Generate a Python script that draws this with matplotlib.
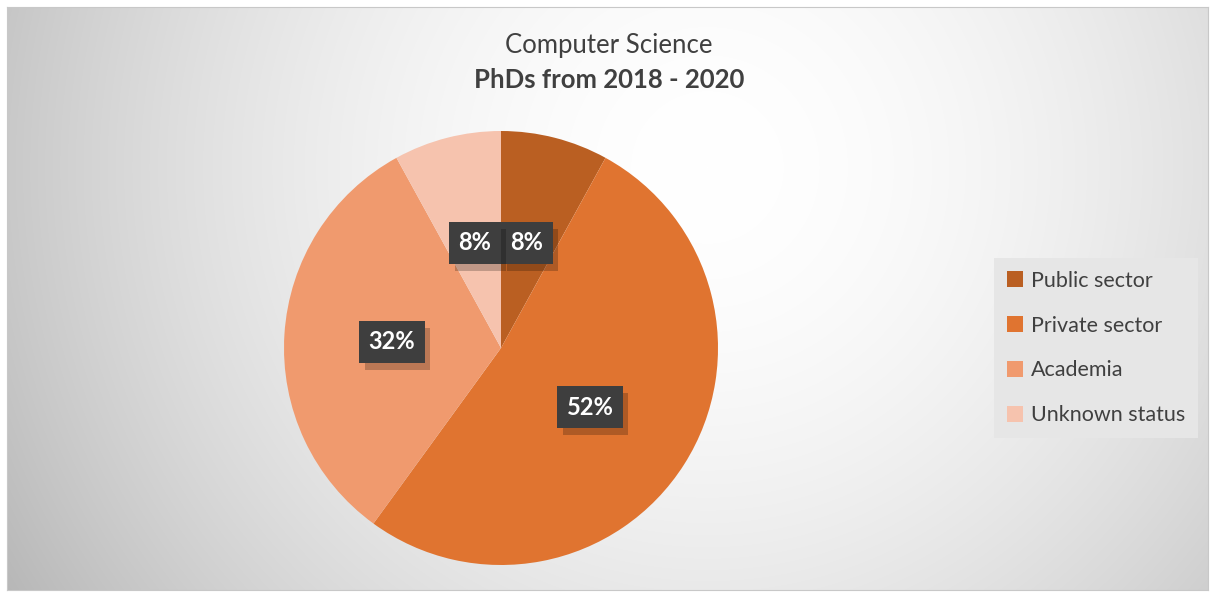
import numpy as np
import matplotlib
matplotlib.use('Agg')
import matplotlib.pyplot as plt
import matplotlib.patheffects as pe
from matplotlib.patches import Patch

plt.rcParams['font.family'] = ['Lato', 'DejaVu Sans']

categories = ['Public sector', 'Private sector', 'Academia', 'Unknown status']
shares = [8, 52, 32, 8]
colors = ['#BA5F22', '#E07430', '#F09A6E', '#F6C3AE']
# label anchor points inside the pie (data coords, radius = 1)
label_xy = [(0.12, 0.484), (0.41, -0.272), (-0.502, 0.028), (-0.12, 0.484)]

W, H = 1210, 592
fig = plt.figure(figsize=(W / 100, H / 100), dpi=100)
fig.patch.set_facecolor('white')

# ── background: radial gradient ──────────────────────────────
bg = fig.add_axes([7 / W, 2 / H, 1201 / W, 583 / H])
yy, xx = np.mgrid[0:583, 0:1201]
d = np.sqrt((xx - 700) ** 2 + (yy - 160) ** 2) / 800
g = np.clip(1.0 - 0.27 * d ** 1.8, 0, 1)
bg.imshow(np.dstack([g, g, g]), aspect='auto', extent=[0, 1, 0, 1], origin='upper')
bg.set_xlim(0, 1)
bg.set_ylim(0, 1)
bg.set_xticks([])
bg.set_yticks([])
for s in bg.spines.values():
    s.set_color('#c8c8c8')
    s.set_linewidth(0.8)

fig.text(609 / W, 1 - 46 / H, 'Computer Science', ha='center', va='center',
         fontsize=18.5, color='#404040')
fig.text(609 / W, 1 - 80 / H, 'PhDs from 2018 - 2020', ha='center', va='center',
         fontsize=18.5, color='#404040', fontweight='bold')

# ── pie ──────────────────────────────────────────────────────
ax = fig.add_axes([284 / W, 27 / H, 434 / W, 434 / H])
ax.pie(shares, colors=colors, startangle=90, counterclock=False, radius=1,
       wedgeprops=dict(edgecolor='none'))
ax.set_xlim(-1, 1)
ax.set_ylim(-1, 1)
ax.set_aspect('equal')
ax.axis('off')

for v, (x, y) in zip(shares, label_xy):
    t = ax.text(x, y, f'{v}%', ha='center', va='center', fontsize=17,
                fontweight='bold', color='white',
                bbox=dict(boxstyle='square,pad=0.4', fc='#3e3e3e', ec='none'))
    t.get_bbox_patch().set_path_effects([
        pe.SimplePatchShadow(offset=(4, -5), shadow_rgbFace='black', alpha=0.22),
        pe.Normal()])

# ── legend ───────────────────────────────────────────────────
handles = [Patch(facecolor=c, edgecolor='none') for c in colors]
leg = fig.legend(handles, categories, loc='center left',
                 bbox_to_anchor=(994 / W, 1 - 348 / H), fontsize=15.5,
                 frameon=True, fancybox=False, handlelength=0.75,
                 handleheight=0.75, handletextpad=0.35, labelspacing=1.15,
                 borderpad=0.6, borderaxespad=0, labelcolor='#404040')
leg.get_frame().set_facecolor('#e6e6e6')
leg.get_frame().set_edgecolor('none')
leg.get_frame().set_alpha(1)

fig.savefig('out.png', dpi=100)
